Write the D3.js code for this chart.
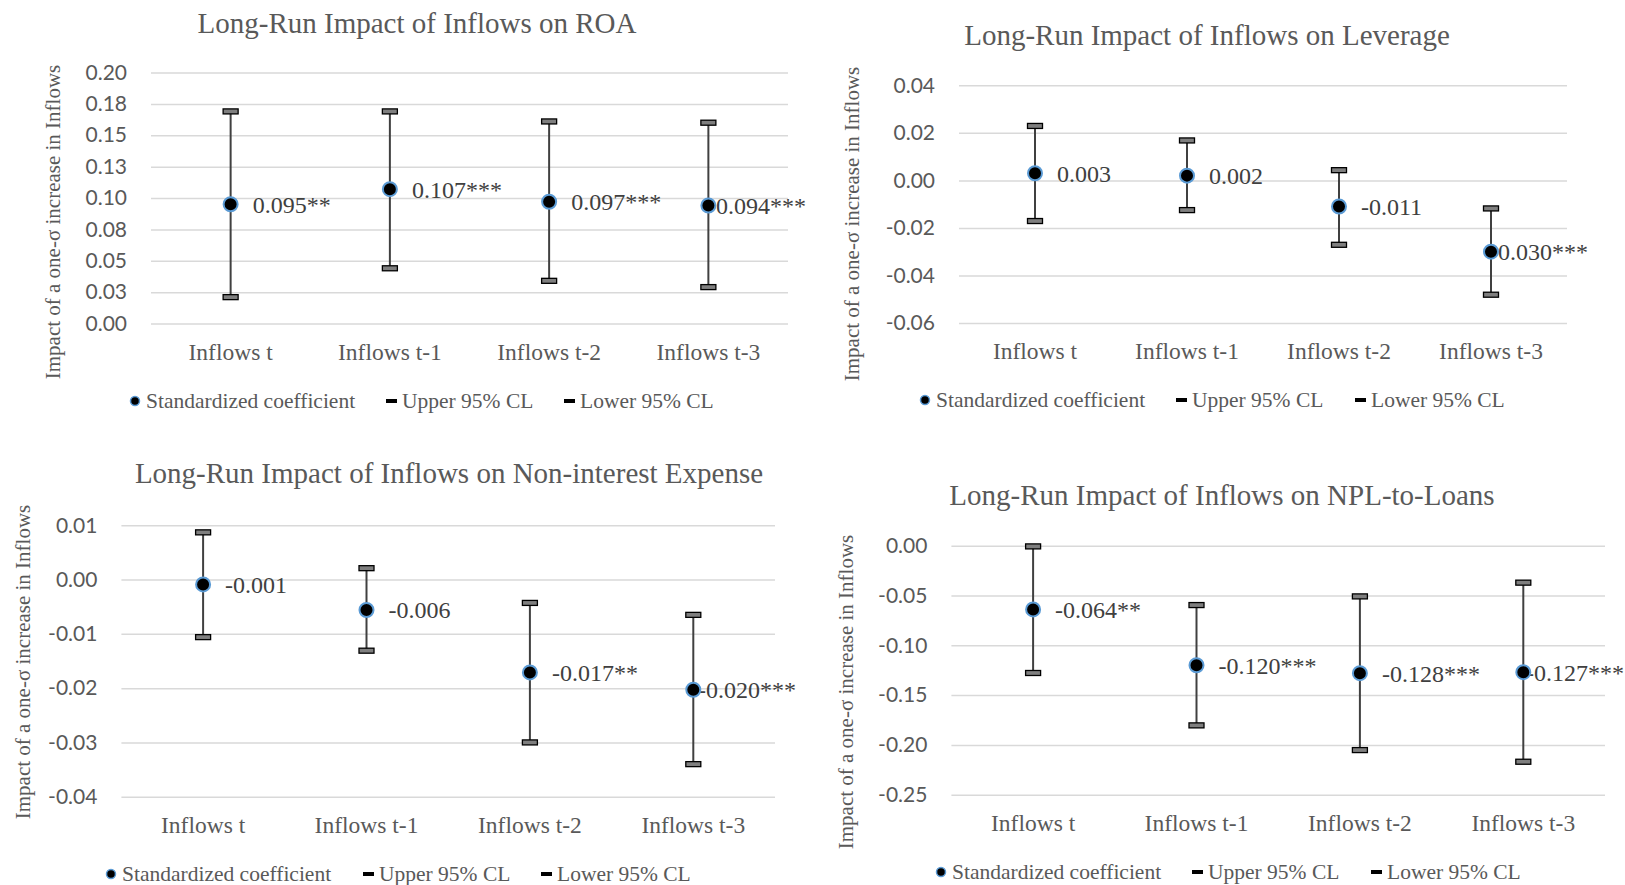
<!DOCTYPE html>
<html>
<head>
<meta charset="utf-8">
<script src="https://cdn.jsdelivr.net/npm/d3@7"></script>
<style>
  body { margin: 0; background: #fff; }
  svg { display: block; }
</style>
</head>
<body>
<div id="chart"></div>
<script>
// Shared categories
const categories = ["Inflows t", "Inflows t-1", "Inflows t-2", "Inflows t-3"];

// ROA
const roaCoef = [0.095, 0.107, 0.097, 0.094];
const roaUpper = [0.169, 0.169, 0.161, 0.160];
const roaLower = [0.021, 0.044, 0.034, 0.029];
const roaLabels = ["0.095**", "0.107***", "0.097***", "0.094***"];
const roaTicks = [0, 0.025, 0.05, 0.075, 0.1, 0.125, 0.15, 0.175, 0.2];
const roaTickLabels = ["0.00", "0.03", "0.05", "0.08", "0.10", "0.13", "0.15", "0.18", "0.20"];

// Leverage
const levCoef = [0.003, 0.002, -0.011, -0.030];
const levUpper = [0.0229, 0.0168, 0.0043, -0.0118];
const levLower = [-0.0171, -0.0125, -0.0271, -0.0481];
const levLabels = ["0.003", "0.002", "-0.011", "-0.030***"];
const levTicks = [-0.06, -0.04, -0.02, 0, 0.02, 0.04];
const levTickLabels = ["-0.06", "-0.04", "-0.02", "0.00", "0.02", "0.04"];

// Non-interest expense
const nieCoef = [-0.0009, -0.0056, -0.0171, -0.0203];
const nieUpper = [0.0087, 0.0021, -0.0043, -0.0065];
const nieLower = [-0.0106, -0.0131, -0.0300, -0.0340];
const nieLabels = ["-0.001", "-0.006", "-0.017**", "-0.020***"];
const nieTicks = [-0.04, -0.03, -0.02, -0.01, 0, 0.01];
const nieTickLabels = ["-0.04", "-0.03", "-0.02", "-0.01", "0.00", "0.01"];

// NPL-to-loans
const nplCoef = [-0.064, -0.120, -0.128, -0.127];
const nplUpper = [-0.0007, -0.0596, -0.0509, -0.0371];
const nplLower = [-0.1278, -0.1804, -0.2052, -0.2169];
const nplLabels = ["-0.064**", "-0.120***", "-0.128***", "-0.127***"];
const nplTicks = [-0.25, -0.2, -0.15, -0.1, -0.05, 0];
const nplTickLabels = ["-0.25", "-0.20", "-0.15", "-0.10", "-0.05", "0.00"];

const legendNames = ["Standardized coefficient", "Upper 95% CL", "Lower 95% CL"];
const yTitle = "Impact of a one-\u03c3 increase in Inflows";

const panels = [
  {
    title: "Long-Run Impact of Inflows on ROA",
    coef: roaCoef, upper: roaUpper, lower: roaLower, labels: roaLabels,
    ticks: roaTicks, tickLabels: roaTickLabels,
    left: 151, right: 788, top: 72.5, bottom: 323.5,
    titleX: 417, titleY: 33, yTitleX: 53, yTitleY: 222,
    legendY: 408, legendX: [135, 386, 564], labelLimit: 806,
  },
  {
    title: "Long-Run Impact of Inflows on Leverage",
    coef: levCoef, upper: levUpper, lower: levLower, labels: levLabels,
    ticks: levTicks, tickLabels: levTickLabels,
    left: 959, right: 1567, top: 85.3, bottom: 323,
    titleX: 1207, titleY: 45, yTitleX: 852, yTitleY: 224,
    legendY: 407, legendX: [925, 1176, 1355], labelLimit: 1588,
  },
  {
    title: "Long-Run Impact of Inflows on Non-interest Expense",
    coef: nieCoef, upper: nieUpper, lower: nieLower, labels: nieLabels,
    ticks: nieTicks, tickLabels: nieTickLabels,
    left: 121.4, right: 775, top: 525.3, bottom: 796.7,
    titleX: 449, titleY: 483, yTitleX: 23, yTitleY: 662,
    legendY: 881, legendX: [111, 363, 541], labelLimit: 796,
  },
  {
    title: "Long-Run Impact of Inflows on NPL-to-Loans",
    coef: nplCoef, upper: nplUpper, lower: nplLower, labels: nplLabels,
    ticks: nplTicks, tickLabels: nplTickLabels,
    left: 951.4, right: 1605, top: 545.7, bottom: 794.7,
    titleX: 1222, titleY: 505, yTitleX: 846, yTitleY: 692,
    legendY: 879, legendX: [941, 1192, 1371], labelLimit: 1624,
  },
];

const serif = "'Liberation Serif', 'Times New Roman', serif";
const sans = "Lato, 'Open Sans', sans-serif";
const gray = "#595959";

const svg = d3.select("#chart").append("svg")
  .attr("width", 1625)
  .attr("height", 885);

panels.forEach((p) => drawPanel(p));

function drawPanel(p) {
  const g = svg.append("g");
  const width = p.right - p.left;

  const x = d3.scaleBand().domain(categories).range([p.left, p.right]);
  const y = d3.scaleLinear()
    .domain([p.ticks[0], p.ticks[p.ticks.length - 1]])
    .range([p.bottom, p.top]);

  // Title
  g.append("text")
    .attr("x", p.titleX).attr("y", p.titleY)
    .attr("text-anchor", "middle")
    .attr("font-family", serif).attr("font-size", "29px")
    .attr("fill", gray)
    .text(p.title);

  // Y axis with gridlines
  const yAxis = g.append("g")
    .attr("transform", `translate(${p.left},0)`)
    .call(d3.axisLeft(y)
      .tickValues(p.ticks)
      .tickSize(-width)
      .tickPadding(24)
      .tickFormat((d, i) => p.tickLabels[i]));
  yAxis.select(".domain").remove();
  yAxis.selectAll("line").attr("stroke", "#d9d9d9").attr("stroke-width", 1.5);
  yAxis.selectAll("text")
    .attr("font-family", sans).attr("font-size", "21px")
    .attr("fill", gray);

  // X axis categories
  const xAxis = g.append("g")
    .attr("transform", `translate(0,${p.bottom})`)
    .call(d3.axisBottom(x).tickSize(0));
  xAxis.select(".domain").remove();
  xAxis.selectAll("text")
    .attr("y", 36).attr("dy", 0)
    .attr("font-family", serif).attr("font-size", "23.5px")
    .attr("fill", gray);

  // Y title
  g.append("text")
    .attr("transform", `translate(${p.yTitleX},${p.yTitleY}) rotate(-90)`)
    .attr("text-anchor", "middle")
    .attr("dy", "0.35em")
    .attr("font-family", serif).attr("font-size", "21px")
    .attr("fill", gray)
    .text(yTitle);

  const cx = (i) => x(categories[i]) + x.bandwidth() / 2;

  // Error bars
  categories.forEach((c, i) => {
    g.append("line")
      .attr("x1", cx(i)).attr("x2", cx(i))
      .attr("y1", y(p.upper[i])).attr("y2", y(p.lower[i]))
      .attr("stroke", "#404040").attr("stroke-width", 2);
  });

  // Data labels (drawn under the markers)
  categories.forEach((c, i) => {
    const t = g.append("text")
      .attr("x", cx(i) + 22).attr("y", y(p.coef[i]))
      .attr("dy", "0.35em")
      .attr("font-family", serif).attr("font-size", "24px")
      .attr("fill", "#404040")
      .text(p.labels[i]);
    const w = t.node().getComputedTextLength();
    if (cx(i) + 22 + w > p.labelLimit) t.attr("x", p.labelLimit - w);
  });

  // Caps (upper and lower CL markers)
  [p.upper, p.lower].forEach((vals) => {
    g.selectAll(null)
      .data(vals)
      .enter()
      .append("rect")
      .attr("x", (d, i) => cx(i) - 7.5)
      .attr("y", (d) => y(d) - 2.5)
      .attr("width", 15).attr("height", 5)
      .attr("fill", "#7f7f7f")
      .attr("stroke", "#000").attr("stroke-width", 1.3);
  });

  // Coefficient markers
  g.selectAll(null)
    .data(p.coef)
    .enter()
    .append("circle")
    .attr("cx", (d, i) => cx(i))
    .attr("cy", (d) => y(d))
    .attr("r", 7)
    .attr("fill", "#000")
    .attr("stroke", "#5b9bd5").attr("stroke-width", 2);

  // Legend
  const ly = p.legendY - 7;
  g.append("circle")
    .attr("cx", p.legendX[0]).attr("cy", ly).attr("r", 4.5)
    .attr("fill", "#000").attr("stroke", "#5b9bd5").attr("stroke-width", 1.5);
  [1, 2].forEach((k) => {
    g.append("rect")
      .attr("x", p.legendX[k]).attr("y", ly - 2)
      .attr("width", 11).attr("height", 4)
      .attr("fill", "#000");
  });
  const textX = [p.legendX[0] + 11, p.legendX[1] + 16, p.legendX[2] + 16];
  legendNames.forEach((name, k) => {
    g.append("text")
      .attr("x", textX[k]).attr("y", p.legendY)
      .attr("font-family", serif).attr("font-size", "21.5px")
      .attr("fill", gray)
      .text(name);
  });
}
</script>
</body>
</html>
